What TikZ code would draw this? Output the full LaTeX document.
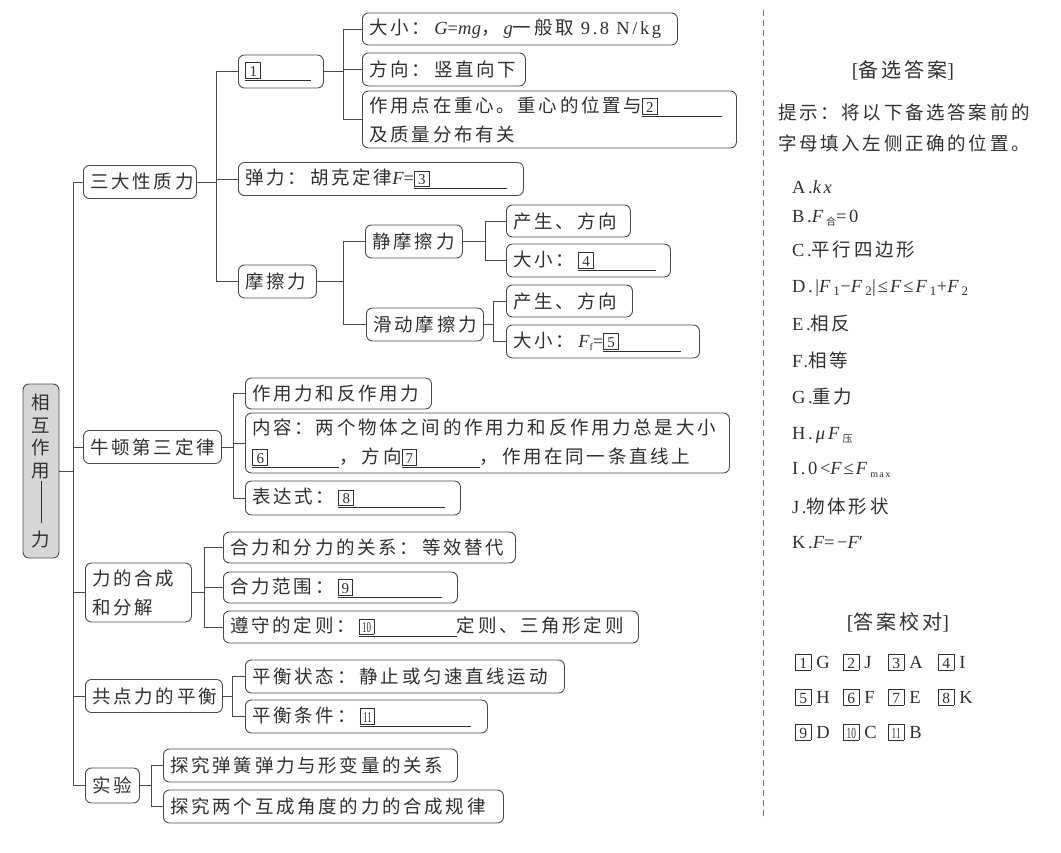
\documentclass[tikz,border=0pt]{standalone}
\usepackage{fontspec}
\usepackage{graphicx}
\setmainfont{Liberation Serif}[LetterSpace=14]
\newfontfamily\lif{Liberation Serif}[LetterSpace=2]
\newfontfamily\cjk{Noto Sans CJK SC}[LetterSpace=14.5]
\definecolor{tc}{HTML}{303030}
\definecolor{lc}{HTML}{4a4a4a}
\definecolor{rootfill}{HTML}{D6D6D6}
\definecolor{dashc}{HTML}{7a7a7a}
\newcommand\lt[1]{{\rmfamily #1}}
\newcommand\li[1]{{\lif\itshape #1}}
\newcommand\ri[1]{{\rmfamily\itshape #1}}
\newcommand\zh[1]{{\cjk #1}}
\newcommand\cl{：\hspace{4pt}}
\newcommand\cm{，\hspace{4pt}}
\newcommand\nb[1]{{\fboxsep=0pt\fboxrule=0.8pt\fbox{\makebox[14pt]{\rule[-1.5pt]{0pt}{14.5pt}\fontsize{15}{15}\lif\selectfont #1}}}}
\newcommand\nbL[1]{{\fboxsep=0pt\fboxrule=0.8pt\fbox{\makebox[14.5pt]{\rule[-1.5pt]{0pt}{15pt}\fontsize{15.5}{15}\lif\selectfont #1}}}}
\newcommand\sq[1]{\scalebox{0.6}[1]{#1}}
\newcommand\blank[2]{\leavevmode\rlap{\rule[-4.5pt]{#2}{1pt}}\nb{#1}\hspace{\dimexpr #2-15.6pt\relax}}
\newcommand\sub[1]{\raisebox{-3pt}{\fontsize{10}{10}\selectfont #1}}
\tikzset{
  bx/.style={draw=lc, line width=0.9pt, rounded corners=6pt, anchor=west,
    inner xsep=7pt, inner ysep=0pt, minimum height=33pt, text=tc,
    font=\cjk\fontsize{18.5}{29}\selectfont},
  ln/.style={draw=lc, line width=0.9pt},
  rt/.style={anchor=west, inner sep=0pt, text=tc, font=\rmfamily\fontsize{18.5}{22}\selectfont},
  ttl/.style={anchor=center, inner sep=0pt, text=tc, font=\cjk\fontsize{20}{24}\selectfont},
}
\begin{document}
\begin{tikzpicture}[x=1pt,y=-1pt]
\useasboundingbox (0,0) rectangle (1061,853);
\fill[white] (0,0) rectangle (1061,853);

% root
\node[draw=lc, line width=0.9pt, fill=rootfill, rounded corners=6pt, minimum width=36pt,
  minimum height=174pt, inner sep=0pt, text=tc, align=center,
  font=\cjk\fontsize{18.5}{22.5}\selectfont] (root) at (41,471)
  {相\\互\\作\\用\\[1pt]\rule{0.8pt}{42pt}\\[1pt]力};

% level 1
\node[bx] (a1) at (83,182) {\makebox[99pt][l]{三大性质力}};
\node[bx] (a2) at (83,447) {\makebox[124pt][l]{牛顿第三定律}};
\node[bx, minimum height=59pt, text width=92pt, align=left] (a3) at (85,592.5) {力的合成\\和分解};
\node[bx] (a4) at (85,696) {\makebox[123pt][l]{共点力的平衡}};
\node[bx, minimum height=35pt] (a5) at (85,785.5) {\makebox[40pt][l]{实验}};

% under a1
\node[bx] (b1) at (238,71.5) {\makebox[71pt][l]{\blank{1}{66pt}}};
\node[bx] (b2) at (238,179) {\makebox[271pt][l]{弹力\cl 胡克定律\li{F}\lt{=}\blank{3}{93pt}}};
\node[bx] (b3) at (238,281.5) {\makebox[64pt][l]{摩擦力}};

% under b1
\node[bx, minimum height=32pt] (c1) at (362,29) {\makebox[301pt][l]{大小\cl\li{G}\lt{=}\li{mg}\cm\li{g}一般取\lt{ 9.8 N/kg}}};
\node[bx] (c2) at (362,69.5) {\makebox[149pt][l]{方向\cl 竖直向下}};
\node[bx, minimum height=57pt, text width=360pt, align=left] (c3) at (362,119.5)
  {作用点在重心。重心的位置与\blank{2}{80pt}\\及质量分布有关};

% under b3
\node[bx] (c4) at (365,241.5) {\makebox[83pt][l]{静摩擦力}};
\node[bx] (c5) at (366,324.5) {\makebox[103pt][l]{滑动摩擦力}};

% under c4 / c5
\node[bx, minimum height=32pt] (d1) at (506,221) {\makebox[110pt][l]{产生、方向}};
\node[bx] (d2) at (506,260.5) {\makebox[150pt][l]{大小\cl\blank{4}{78pt}}};
\node[bx, minimum height=32pt] (d3) at (506,301) {\makebox[112pt][l]{产生、方向}};
\node[bx] (d4) at (506,341.5) {\makebox[179pt][l]{大小\cl\li{F}\lt{\sub{f}=}\blank{5}{78pt}}};

% under a2
\node[bx, minimum height=31pt] (e1) at (245,393.5) {\makebox[172pt][l]{作用力和反作用力}};
\node[bx, minimum height=60pt, text width=470pt, align=left] (e2) at (245,443)
  {内容：两个物体之间的作用力和反作用力总是大小\\\blank{6}{87pt}\cm 方向\blank{7}{78pt}\cm 作用在同一条直线上};
\node[bx, minimum height=34pt] (e3) at (245,498) {\makebox[201pt][l]{表达式\cl\blank{8}{107pt}}};

% under a3
\node[bx, minimum height=31pt] (f1) at (223,547.5) {\makebox[278pt][l]{合力和分力的关系\cl 等效替代}};
\node[bx, minimum height=31pt] (f2) at (223,587.5) {\makebox[220pt][l]{合力范围\cl\blank{9}{104pt}}};
\node[bx, minimum height=32pt] (f3) at (223,627) {\makebox[401pt][l]{遵守的定则\cl\blank{\sq{10}}{98pt}定则、三角形定则}};

% under a4
\node[bx] (g1) at (245,676.5) {\makebox[305pt][l]{平衡状态\cl 静止或匀速直线运动}};
\node[bx] (g2) at (245,716.5) {\makebox[228pt][l]{平衡条件\cl\blank{\sq{11}}{111pt}}};

% under a5
\node[bx] (h1) at (163,765.5) {\makebox[280pt][l]{探究弹簧弹力与形变量的关系}};
\node[bx] (h2) at (163,806.5) {\makebox[326pt][l]{探究两个互成角度的力的合成规律}};

% connectors
\foreach \c in {a1,a2,a3,a4,a5} \draw[ln] (root.east) -- ++(14,0) |- (\c.west);
\foreach \c in {b1,b2,b3} \draw[ln] (a1.east) -- ++(20,0) |- (\c.west);
\foreach \c in {c1,c2,c3} \draw[ln] (b1.east) -- ++(20,0) |- (\c.west);
\foreach \c in {c4,c5} \draw[ln] (b3.east) -- ++(27,0) |- (\c.west);
\foreach \c in {d1,d2} \draw[ln] (c4.east) -- ++(23,0) |- (\c.west);
\foreach \c in {d3,d4} \draw[ln] (c5.east) -- ++(10,0) |- (\c.west);
\foreach \c in {e1,e2,e3} \draw[ln] (a2.east) -- ++(12,0) |- (\c.west);
\foreach \c in {f1,f2,f3} \draw[ln] (a3.east) -- ++(13,0) |- (\c.west);
\foreach \c in {g1,g2} \draw[ln] (a4.east) -- ++(10,0) |- (\c.west);
\foreach \c in {h1,h2} \draw[ln] (a5.east) -- ++(12,0) |- (\c.west);

% separator
\coordinate (sepT) at (763,10);
\coordinate (sepB) at (763,820);
\draw[dashc, line width=0.9pt, dash pattern=on 6pt off 4pt] (sepT) -- (sepB);

% right panel
\node[ttl] (t1) at (903,70) {\lt{[}备选答案\lt{]}};
\node[rt, font=\cjk\fontsize{18.5}{22}\selectfont] (p1) at (778,112) {提示：将以下备选答案前的};
\node[rt, font=\cjk\fontsize{18.5}{22}\selectfont] (p2) at (778,143) {字母填入左侧正确的位置。};
\node[rt] (iA) at (792,187) {A.\ri{kx}};
\node[rt] (iB) at (792,218) {B.\ri{F}\,\sub{\zh{合}}=0};
\node[rt] (iC) at (792,250) {C.\zh{平行四边形}};
\node[rt] (iD) at (792,288) {D.|\ri{F}\,\textsubscript{1}−\ri{F}\,\textsubscript{2}|\hspace{2pt}≤\hspace{2pt}\ri{F}\hspace{2pt}≤\hspace{2pt}\ri{F}\,\textsubscript{1}+\ri{F}\,\textsubscript{2}};
\node[rt] (iE) at (792,323) {E.\zh{相反}};
\node[rt] (iF) at (792,360) {F.\zh{相等}};
\node[rt] (iG) at (792,397) {G.\zh{重力}};
\node[rt] (iH) at (792,435) {H.\,\ri{μ}\,\ri{F}\,\sub{\zh{压}}};
\node[rt] (iI) at (792,470) {I.0<\ri{F}\hspace{2pt}≤\hspace{2pt}\ri{F}\,\sub{max}};
\node[rt] (iJ) at (792,507) {J.\zh{物体形状}};
\node[rt] (iK) at (792,543) {K.\ri{F}=−\ri{F}′};

\node[ttl] (t2) at (898,622) {\lt{[}答案校对\lt{]}};
\node[rt] (k1) at (795,662) {\nbL{1}\hspace{5pt}G};
\node[rt] (k2) at (843,662) {\nbL{2}\hspace{5pt}J};
\node[rt] (k3) at (888,662) {\nbL{3}\hspace{5pt}A};
\node[rt] (k4) at (938,662) {\nbL{4}\hspace{5pt}I};
\node[rt] (k5) at (795,697) {\nbL{5}\hspace{5pt}H};
\node[rt] (k6) at (843,697) {\nbL{6}\hspace{5pt}F};
\node[rt] (k7) at (888,697) {\nbL{7}\hspace{5pt}E};
\node[rt] (k8) at (938,697) {\nbL{8}\hspace{5pt}K};
\node[rt] (k9) at (795,732) {\nbL{9}\hspace{5pt}D};
\node[rt] (k10) at (843,732) {\nbL{\sq{10}}\hspace{5pt}C};
\node[rt] (k11) at (888,732) {\nbL{\sq{11}}\hspace{5pt}B};
\end{tikzpicture}
\end{document}
